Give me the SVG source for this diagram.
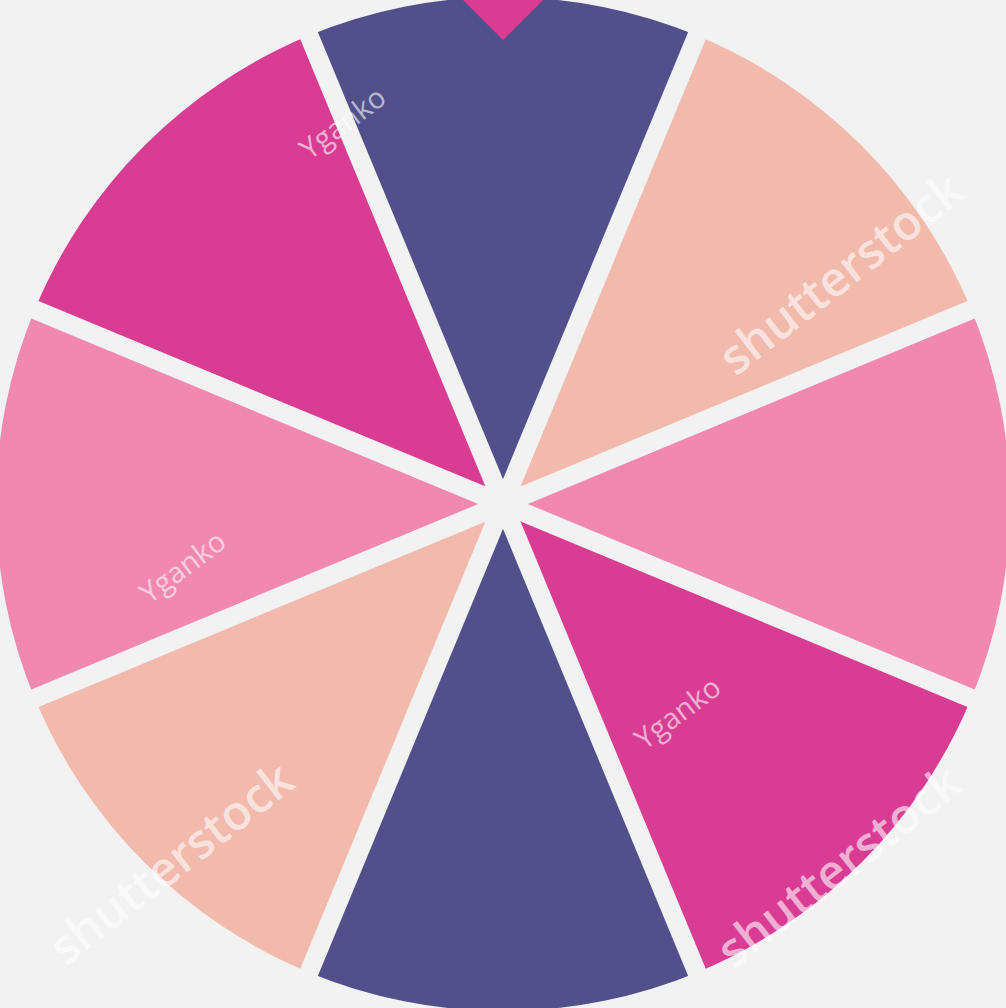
<svg xmlns="http://www.w3.org/2000/svg" width="1006" height="1008" viewBox="0 0 1006 1008">
<style>
.purple{fill:#51508B}
.peach{fill:#F2BAAC}
.pink{fill:#F088B0}
.magenta{fill:#D93D93}
.gap{stroke:#F2F2F2;stroke-width:19;stroke-linecap:butt}
.wm{font-family:"Open Sans","Liberation Sans",sans-serif;font-weight:600;fill:#FFFFFF;fill-opacity:0.6;text-anchor:middle;dominant-baseline:central}
.big{font-size:48px}
.small{font-size:29px;font-weight:400}
</style>
<rect x="0" y="0" width="1006" height="1008" fill="#F2F2F2"/>
<g id="segment-top"><path class="purple" d="M503 504 L308.98 35.59 A507 507 0 0 1 697.02 35.59 Z"/></g>
<g id="segment-top-right"><path class="peach" d="M503 504 L697.02 35.59 A507 507 0 0 1 971.41 309.98 Z"/></g>
<g id="segment-right"><path class="pink" d="M503 504 L971.41 309.98 A507 507 0 0 1 971.41 698.02 Z"/></g>
<g id="segment-bottom-right"><path class="magenta" d="M503 504 L971.41 698.02 A507 507 0 0 1 697.02 972.41 Z"/></g>
<g id="segment-bottom"><path class="purple" d="M503 504 L697.02 972.41 A507 507 0 0 1 308.98 972.41 Z"/></g>
<g id="segment-bottom-left"><path class="peach" d="M503 504 L308.98 972.41 A507 507 0 0 1 34.59 698.02 Z"/></g>
<g id="segment-left"><path class="pink" d="M503 504 L34.59 698.02 A507 507 0 0 1 34.59 309.98 Z"/></g>
<g id="segment-top-left"><path class="magenta" d="M503 504 L34.59 309.98 A507 507 0 0 1 308.98 35.59 Z"/></g>
<g id="gaps">
<line class="gap" x1="286" y1="-20" x2="720" y2="1028"/>
<line class="gap" x1="720" y1="-20" x2="286" y2="1028"/>
<line class="gap" x1="-20" y1="287" x2="1026" y2="721"/>
<line class="gap" x1="-20" y1="721" x2="1026" y2="287"/>
</g>
<g id="marker"><polygon fill="#D93D93" points="463,0 543,0 503,40"/></g>
<g id="watermarks">
<text class="wm big" transform="translate(840 272) rotate(-38)">shutterstock</text>
<text class="wm big" transform="translate(170 862) rotate(-38)">shutterstock</text>
<text class="wm big" transform="translate(838 865) rotate(-38)">shutterstock</text>
<text class="wm small" transform="translate(342 122) rotate(-37)">Yganko</text>
<text class="wm small" transform="translate(182 566) rotate(-37)">Yganko</text>
<text class="wm small" transform="translate(677 712) rotate(-37)">Yganko</text>
</g>
</svg>
